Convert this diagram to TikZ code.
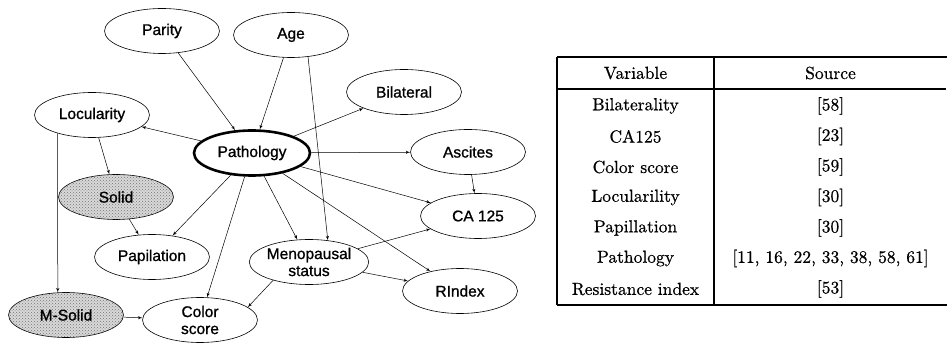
\documentclass[tikz,border=0pt]{standalone}
\usepackage{fontspec}
\newfontfamily\arialfont[FakeBold=1]{Liberation Sans}
\newfontfamily\tablefont[FakeBold=0.6]{lmroman10-regular.otf}
\usepackage{tikz}
\usetikzlibrary{arrows,shapes.geometric,patterns}

\begin{document}
\begin{tikzpicture}[x=1pt,y=-1pt]
\tikzset{vertex/.style = {shape=ellipse,draw,line width=0.6pt,inner sep=0pt,
  minimum width=115pt,minimum height=45pt,align=center,
  font=\arialfont\fontsize{15.5}{17}\selectfont}}
\tikzset{shaded/.style = {fill=gray!30,postaction={pattern=crosshatch dots,pattern color=black!55}}}
\tikzset{edge/.style = {->,> = latex',line width=0.5pt}}
\tikzset{cell/.style = {inner sep=0pt,font=\tablefont\fontsize{17.5}{20}\selectfont}}
\useasboundingbox (0,0) rectangle (950,344);

\node[vertex] (parity) at (162,31) {Parity};
\node[vertex] (age) at (291,35) {Age};
\node[vertex] (bilateral) at (404,92) {Bilateral};
\node[vertex] (locularity) at (92,115) {Locularity};
\node[vertex,line width=2.6pt,minimum width=116pt] (pathology) at (252,153) {Pathology};
\node[vertex] (ascites) at (468,152) {Ascites};
\node[vertex,shaded] (solid) at (116,197) {Solid};
\node[vertex] (ca) at (478,216) {CA 125};
\node[vertex] (papilation) at (152,257) {Papilation};
\node[vertex] (meno) at (309,262) {Menopausal\\status};
\node[vertex] (rindex) at (460,291) {RIndex};
\node[vertex,shaded] (msolid) at (66,315) {M-Solid};
\node[vertex] (color) at (200,320) {Color\\score};

%edges
\draw[edge] (parity) to (pathology);
\draw[edge] (age) to (pathology);
\draw[edge] (age.-52) to (meno.49);
\draw[edge] (pathology) to (locularity);
\draw[edge] (pathology) to (bilateral);
\draw[edge] (pathology) to (ascites);
\draw[edge] (pathology) to (ca);
\draw[edge] (pathology) to (rindex);
\draw[edge] (pathology) to (meno);
\draw[edge] (pathology) to (papilation);
\draw[edge] (pathology) to (color);
\draw[edge] (locularity) to (solid);
\draw[edge] (locularity.-152) to (msolid.110);
\draw[edge] (solid) to (papilation);
\draw[edge] (msolid) to (color);
\draw[edge] (ascites) to (ca);
\draw[edge] (meno) to (ca);
\draw[edge] (meno) to (rindex);
\draw[edge] (meno.-153) to (color.15);

%table
\draw[line width=1.2pt] (557,57) -- (947,57);
\draw[line width=1.2pt] (557,89) -- (946,89);
\draw[line width=1.2pt] (557,305) -- (947,305);
\draw[line width=1.2pt] (557,57) -- (557,305);
\draw[line width=1.2pt] (714,57) -- (714,305);
\node[cell] (varhead) at (635.5,73) {Variable};
\node[cell] (srchead) at (830.5,73) {Source};
\foreach \var/\src [count=\i from 0] in {Bilaterality/{[58]}, CA125/{[23]},
    Color score/{[59]}, Locularility/{[30]}, Papillation/{[30]},
    Pathology/{[11, 16, 22, 33, 38, 58, 61]}, Resistance index/{[53]}}
{
  \node[cell] (var\i) at (635.5,106+30.5*\i) {\var};
  \node[cell] (src\i) at (830.5,106+30.5*\i) {\src};
}
\end{tikzpicture}
\end{document}
